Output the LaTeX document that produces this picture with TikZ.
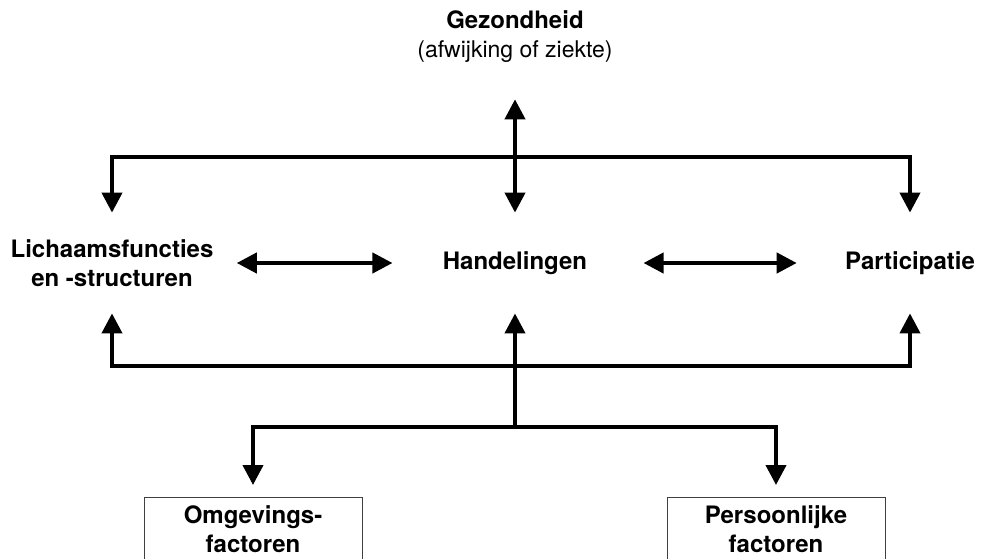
\documentclass[tikz,border=0pt]{standalone}
\usepackage{fontspec}
\setmainfont{TeX Gyre Heros}
\usepackage{tikz}
\usetikzlibrary{arrows.meta}

\begin{document}
\begin{tikzpicture}[x=0.5pt,y=-0.5pt,
    lbl/.style={font=\fontsize{12}{14.5}\selectfont\bfseries,align=center,inner sep=0pt},
    sub/.style={font=\fontsize{11.5}{14}\selectfont,inner sep=0pt},
    blok/.style={lbl,minimum height=50pt},
    kader/.style={lbl,draw=black!75,line width=0.5pt,anchor=north,inner ysep=4pt,minimum width=109pt},
    lijn/.style={line width=2pt},
    pijl/.style={lijn,-{Triangle[width=10pt,length=10pt]}},
    dpijl/.style={lijn,{Triangle[width=10pt,length=10pt]}-{Triangle[width=10pt,length=10pt]}}]
    \path[use as bounding box,clip] (0,0) rectangle (992,558);
    \node[lbl] (gez) at (515,20) {Gezondheid};
    \node[sub] (afw) at (515,52) {(afwijking of ziekte)};
    \node[blok] (lich) at (112,263) {Lichaamsfuncties\\en -structuren};
    \node[blok] (hand) at (515,263) {Handelingen};
    \node[blok] (part) at (910,263) {Participatie};
    \node[kader] (omg) at (253,497) {Omgevings-\\factoren};
    \node[kader] (pers) at (776,497) {Persoonlijke\\factoren};
    \coordinate (boven) at (515,157);
    \coordinate (onder) at (515,366);
    \coordinate (split) at (515,427);
    \draw[dpijl,shorten >=18pt] (hand.north) -- (afw.south);
    \draw[pijl] (boven) -| (lich.north);
    \draw[pijl] (boven) -| (part.north);
    \draw[dpijl,shorten <=11.5pt,shorten >=25pt] (lich.east) -- (hand.west);
    \draw[dpijl,shorten <=28pt,shorten >=24pt] (hand.east) -- (part.west);
    \draw[pijl] (split) -- (hand.south);
    \draw[pijl] (onder) -| (lich.south);
    \draw[pijl] (onder) -| (part.south);
    \draw[pijl,shorten >=6pt] (split) -| (omg.north);
    \draw[pijl,shorten >=6pt] (split) -| (pers.north);
\end{tikzpicture}
\end{document}
